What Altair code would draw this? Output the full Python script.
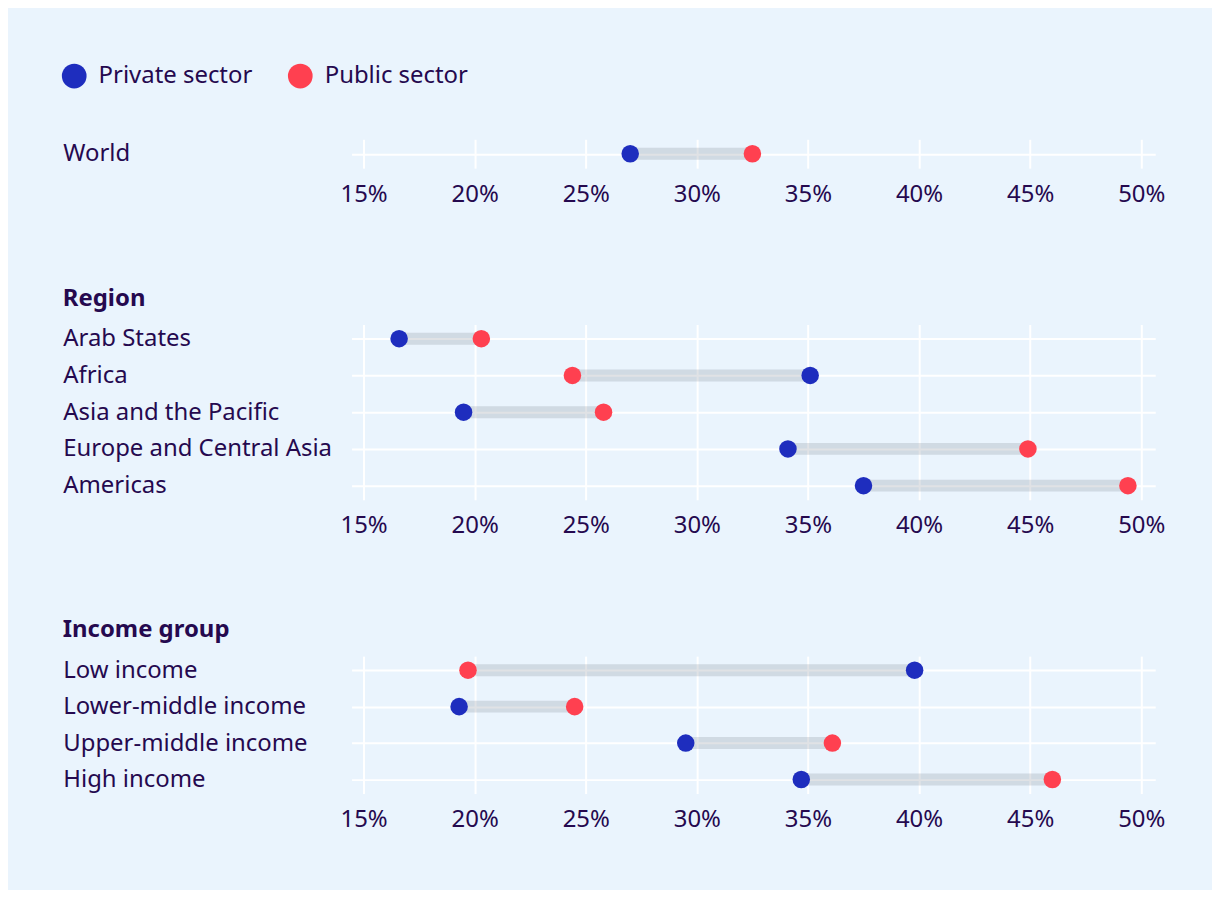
import altair as alt
import pandas as pd

# ---- data ----
world_cats = ["World"]
world_private = [27.0]
world_public = [32.5]

region_cats = ["Arab States", "Africa", "Asia and the Pacific", "Europe and Central Asia", "Americas"]
region_private = [16.6, 35.1, 19.5, 34.1, 37.5]
region_public = [20.3, 24.4, 25.8, 44.9, 49.4]

income_cats = ["Low income", "Lower-middle income", "Upper-middle income", "High income"]
income_private = [39.8, 19.3, 29.5, 34.7]
income_public = [19.7, 24.5, 36.1, 46.0]

x_ticks = [15, 20, 25, 30, 35, 40, 45, 50]
sectors = ["Private sector", "Public sector"]
colors = ["#1E2DBE", "#FF4050"]

TEXT = "#25094F"
BG = "#EAF4FD"
FONT = "Noto Sans"
FS = 24

xscale = alt.Scale(domain=[14.46, 50.63], nice=False, zero=False)
xaxis = alt.Axis(
    title=None, values=x_ticks, labelExpr="datum.value + '%'",
    ticks=False, domain=False, grid=True, gridColor="white", gridWidth=2,
    labelFontSize=FS, labelColor=TEXT, labelPadding=14, labelFont=FONT,
)


def panel(cats, priv, pub, title, height):
    wide = pd.DataFrame({"cat": cats, "priv": priv, "pub": pub})
    long = pd.concat([
        pd.DataFrame({"cat": cats, "sector": sectors[0], "value": priv}),
        pd.DataFrame({"cat": cats, "sector": sectors[1], "value": pub}),
    ])
    y = alt.Y(
        "cat:N", sort=cats,
        scale=alt.Scale(type="point", padding=0.385),
        axis=alt.Axis(
            title=None, labelAlign="left", labelPadding=290, ticks=False,
            domain=False, grid=True, gridColor="white", gridWidth=2,
            labelFontSize=FS, labelColor=TEXT, labelLimit=400, labelFont=FONT,
        ),
    )
    rule = alt.Chart(wide).mark_rule(strokeWidth=12, color="#828C96", opacity=0.25).encode(
        x=alt.X("priv:Q", scale=xscale, axis=xaxis),
        x2="pub:Q",
        y=y,
    )
    pts = alt.Chart(long).mark_circle(size=310, opacity=1).encode(
        x=alt.X("value:Q", scale=xscale, axis=xaxis),
        y=y,
        color=alt.Color(
            "sector:N",
            scale=alt.Scale(domain=sectors, range=colors),
            legend=alt.Legend(
                title=None, orient="none", legendX=-291, legendY=-76,
                direction="horizontal",
                symbolType="circle", symbolSize=615, symbolOpacity=1,
                symbolStrokeWidth=0,
                labelFontSize=FS, labelColor=TEXT, labelFont=FONT,
                columnPadding=35, labelOffset=12,
            ),
        ),
    )
    ch = alt.layer(rule, pts).properties(
        width=807, height=height,
        view=alt.ViewBackground(stroke="transparent", strokeWidth=0),
    )
    if title:
        ch = ch.properties(title=alt.TitleParams(
            title, anchor="start", frame="bounds", fontSize=FS, fontWeight="bold",
            color=TEXT, font=FONT, offset=14,
        ))
    return ch


chart = alt.vconcat(
    panel(world_cats, world_private, world_public, None, 29),
    panel(region_cats, region_private, region_public, "Region", 176),
    panel(income_cats, income_private, income_public, "Income group", 138),
    spacing=81,
).properties(
    background=BG,
    padding={"left": 54, "top": 54, "right": 47, "bottom": 57},
).configure(
    font=FONT,
    view=alt.ViewConfig(stroke="transparent", strokeWidth=0),
)

chart.save("out.html", embed_options={"renderer": "svg", "actions": False})
